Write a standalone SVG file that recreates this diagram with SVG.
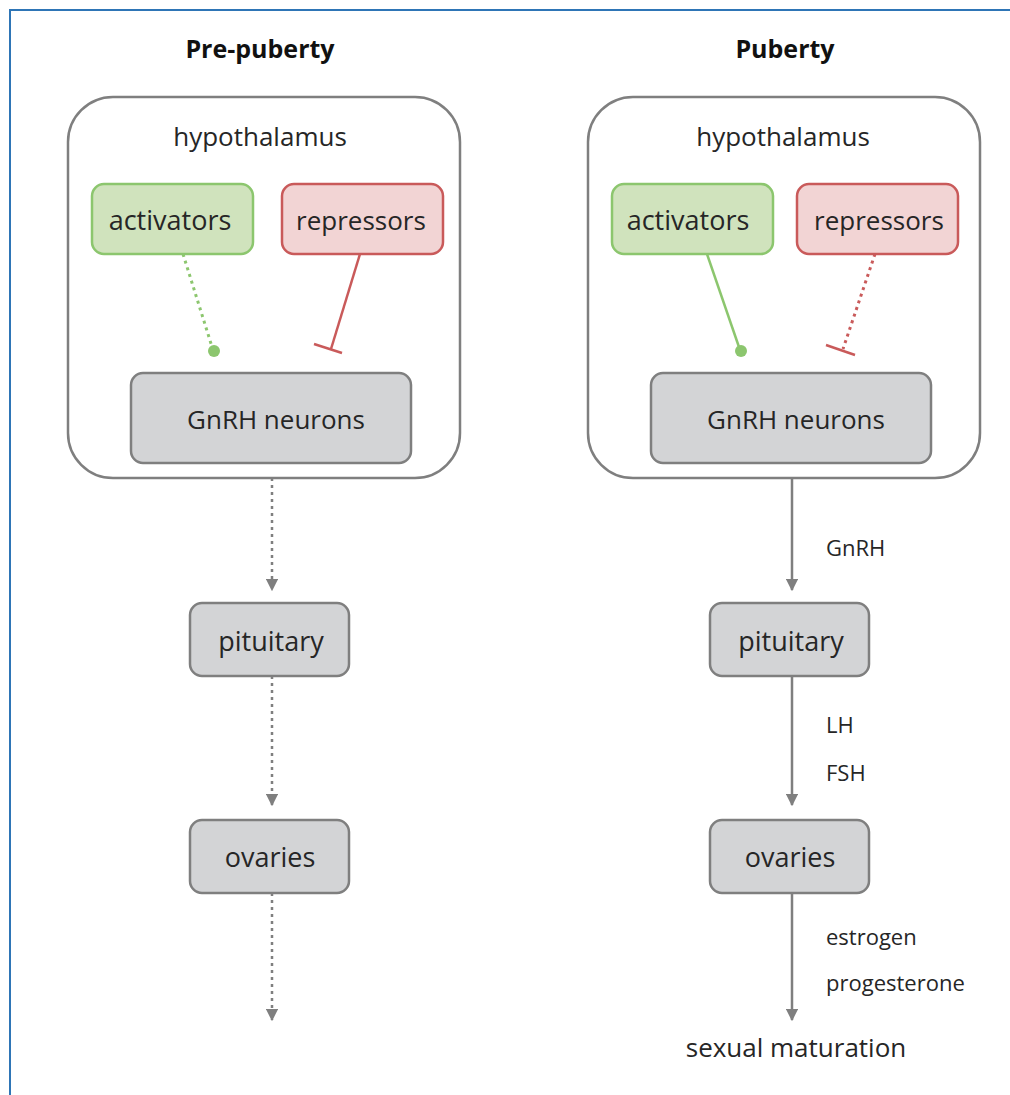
<svg xmlns="http://www.w3.org/2000/svg" width="1010" height="1095" viewBox="0 0 1010 1095">
<defs>
<style>
.t{font-family:"Open Sans","Liberation Sans",sans-serif;fill:#262626;text-anchor:middle}
.title{font-family:"Open Sans","Liberation Sans",sans-serif;font-weight:bold;font-size:25px;fill:#111;text-anchor:middle}
.hyp{fill:#fff;stroke:#7f7f7f;stroke-width:2.5}
.act{fill:#d0e3bd;stroke:#8cc66e;stroke-width:2.5}
.rep{fill:#f2d4d4;stroke:#c95a5a;stroke-width:2.5}
.gray{fill:#d3d4d6;stroke:#7f7f7f;stroke-width:2.5}
.lbl{font-family:"Open Sans","Liberation Sans",sans-serif;font-size:22px;fill:#262626}
.arr{stroke:#7f7f7f;stroke-width:2.5;fill:none}
.dot{stroke-dasharray:3 4}
</style>
<marker id="ah" viewBox="0 0 10 10" refX="9" refY="5" markerWidth="5" markerHeight="5" orient="auto" markerUnits="strokeWidth">
<path d="M0,0 L10,5 L0,10 z" fill="#7f7f7f"/>
</marker>
</defs>
<rect x="10" y="10" width="1020" height="1100" fill="#fff" stroke="#2e75b6" stroke-width="2"/>
<text class="title" x="260" y="58">Pre-puberty</text>
<text class="title" x="785" y="58">Puberty</text>

<g id="hyp-left"><rect class="hyp" x="68" y="97" width="392" height="381" rx="45"/><text class="t" x="260" y="146" font-size="26">hypothalamus</text></g>
<g id="hyp-right"><rect class="hyp" x="588" y="97" width="392" height="381" rx="45"/><text class="t" x="783" y="146" font-size="26">hypothalamus</text></g>

<g id="act-left"><rect class="act" x="92" y="184" width="161" height="70" rx="12"/><text class="t" x="170" y="230" font-size="27">activators</text></g>
<g id="rep-left"><rect class="rep" x="282" y="184" width="161" height="70" rx="12"/><text class="t" x="361" y="230" font-size="26">repressors</text></g>
<g id="act-right"><rect class="act" x="612" y="184" width="161" height="70" rx="12"/><text class="t" x="688" y="230" font-size="27">activators</text></g>
<g id="rep-right"><rect class="rep" x="797" y="184" width="161" height="70" rx="12"/><text class="t" x="879" y="230" font-size="26">repressors</text></g>

<g id="gnrh-left"><rect class="gray" x="131" y="373" width="280" height="90" rx="12"/><text class="t" x="276" y="429" font-size="26">GnRH neurons</text></g>
<g id="gnrh-right"><rect class="gray" x="651" y="373" width="280" height="90" rx="12"/><text class="t" x="796" y="429" font-size="26">GnRH neurons</text></g>

<g id="pit-left"><rect class="gray" x="190" y="603" width="159" height="73" rx="12"/><text class="t" x="271" y="651" font-size="27">pituitary</text></g>
<g id="pit-right"><rect class="gray" x="710" y="603" width="159" height="73" rx="12"/><text class="t" x="791" y="651" font-size="27">pituitary</text></g>

<g id="ova-left"><rect class="gray" x="190" y="820" width="159" height="73" rx="12"/><text class="t" x="270" y="867" font-size="27">ovaries</text></g>
<g id="ova-right"><rect class="gray" x="710" y="820" width="159" height="73" rx="12"/><text class="t" x="790" y="867" font-size="27">ovaries</text></g>

<g id="sexual-maturation"><text class="t" x="796" y="1057" font-size="26">sexual maturation</text></g>

<g id="connectors">
<line x1="183" y1="254" x2="213" y2="350" stroke="#8cc66e" stroke-width="3" class="dot"/>
<circle cx="214" cy="351" r="6" fill="#8cc66e"/>
<line x1="360" y1="254" x2="331" y2="349" stroke="#c95a5a" stroke-width="2.5"/>
<line x1="314" y1="344" x2="342" y2="353" stroke="#c95a5a" stroke-width="2.5"/>
<line x1="707" y1="254" x2="740" y2="350" stroke="#8cc66e" stroke-width="2.5"/>
<circle cx="741" cy="351" r="6" fill="#8cc66e"/>
<line x1="875" y1="254" x2="843" y2="349" stroke="#c95a5a" stroke-width="3" class="dot"/>
<line x1="826" y1="345" x2="855" y2="355" stroke="#c95a5a" stroke-width="2.5"/>

<line class="arr dot" x1="272" y1="478" x2="272" y2="590" marker-end="url(#ah)"/>
<line class="arr dot" x1="272" y1="676" x2="272" y2="805" marker-end="url(#ah)"/>
<line class="arr dot" x1="272" y1="893" x2="272" y2="1020" marker-end="url(#ah)"/>
<line class="arr" x1="792" y1="478" x2="792" y2="590" marker-end="url(#ah)"/>
<line class="arr" x1="792" y1="676" x2="792" y2="805" marker-end="url(#ah)"/>
<line class="arr" x1="792" y1="893" x2="792" y2="1020" marker-end="url(#ah)"/>
<text class="lbl" x="826" y="556">GnRH</text>
<text class="lbl" x="826" y="733">LH</text>
<text class="lbl" x="826" y="781">FSH</text>
<text class="lbl" x="826" y="945">estrogen</text>
<text class="lbl" x="826" y="991">progesterone</text>
</g>
</svg>
